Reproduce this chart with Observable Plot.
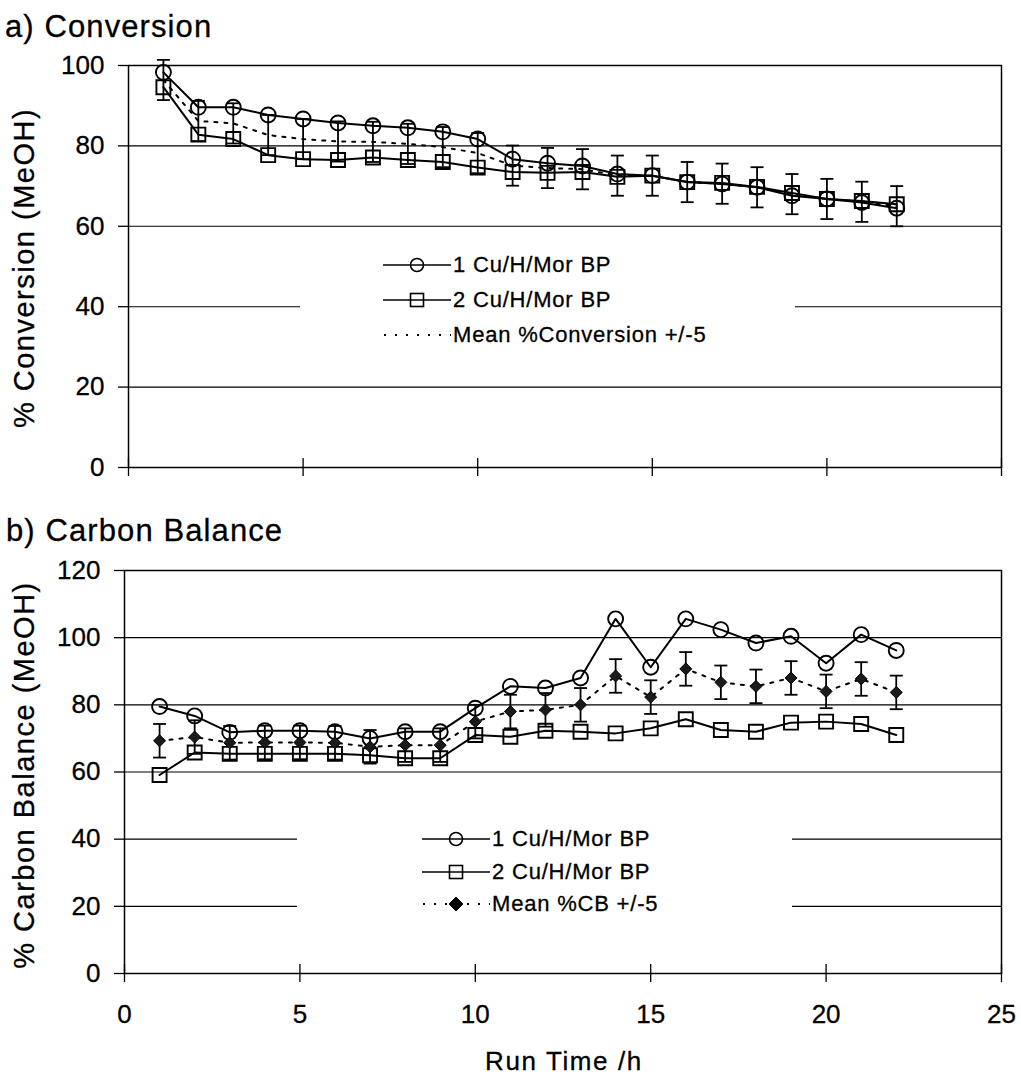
<!DOCTYPE html>
<html>
<head>
<meta charset="utf-8">
<script src="https://cdn.jsdelivr.net/npm/d3@7"></script>
<script src="https://cdn.jsdelivr.net/npm/@observablehq/plot@0.6"></script>
<style>
  html, body { margin: 0; padding: 0; background: #fff; }
  #page { position: relative; width: 1021px; height: 1076px; overflow: hidden; background: #fff;
          font-family: "Liberation Sans", Arial, Helvetica, sans-serif; color: #000; }
  .abs { position: absolute; }
  .title { font-size: 31px; letter-spacing: 1.1px; line-height: 30px; white-space: nowrap; -webkit-text-stroke: 0.3px #000; }
  .ylab { font-size: 29px; letter-spacing: 1.5px; white-space: nowrap; transform: translate(-50%, -50%) rotate(-90deg); line-height: 30px; -webkit-text-stroke: 0.3px #000; }
  .xlab { font-size: 26px; letter-spacing: 1.6px; white-space: nowrap; transform: translateX(-50%); line-height: 26px; -webkit-text-stroke: 0.3px #000; }
  .legend { background: #fff; }
  .legrow { position: absolute; display: flex; align-items: center; height: 30px; transform: translateY(-50%); font-size: 22px; letter-spacing: 0.8px; white-space: nowrap; -webkit-text-stroke: 0.3px #000; }
  .legrow svg { display: block; margin-right: 2px; }
  svg text { stroke: #000; stroke-width: 0.3px; }
</style>
</head>
<body>
<div id="page"></div>
<script>
// ---------- data ----------
const hours = [1, 2, 3, 4, 5, 6, 7, 8, 9, 10, 11, 12, 13, 14, 15, 16, 17, 18, 19, 20, 21, 22];

// a) Conversion (%)
const conv1 = [98.3, 89.6, 89.6, 87.7, 86.7, 85.7, 85.0, 84.5, 83.5, 81.7, 76.7, 75.7, 75.0, 73.0, 72.6, 71.0, 70.5, 69.7, 67.6, 66.8, 65.9, 64.5];
const conv2 = [94.6, 82.8, 81.7, 77.7, 76.7, 76.5, 77.1, 76.5, 76.0, 74.6, 73.5, 73.3, 73.5, 72.3, 72.6, 71.0, 70.8, 69.8, 68.3, 66.8, 66.3, 65.5];
const convMean = [96.4, 86.2, 85.6, 82.7, 81.7, 81.1, 81.0, 80.5, 79.7, 78.2, 75.1, 74.5, 74.2, 72.6, 72.6, 71.0, 70.6, 69.7, 68.0, 66.8, 66.1, 65.0];

// b) Carbon balance (%)
const cb1 = [79.5, 76.7, 71.8, 72.3, 72.3, 72.0, 70.0, 72.0, 72.0, 79.0, 85.5, 85.0, 88.0, 105.6, 91.2, 105.6, 102.4, 98.4, 100.4, 92.4, 100.9, 96.2];
const cb2 = [59.1, 65.8, 65.4, 65.4, 65.4, 65.4, 65.0, 64.1, 64.1, 71.0, 70.5, 72.3, 72.0, 71.5, 73.0, 75.7, 72.5, 72.0, 74.7, 75.0, 74.3, 71.0];
const cbMean = [69.3, 70.4, 68.7, 68.8, 68.8, 68.7, 67.5, 68.0, 68.0, 75.0, 78.0, 78.5, 80.0, 88.6, 82.3, 90.7, 86.7, 85.5, 88.0, 84.0, 87.7, 83.7];

const errHalf = 5;   // "+/-5" error bars on the mean

const xTicks = [0, 5, 10, 15, 20, 25];
const convTicks = [0, 20, 40, 60, 80, 100];
const convGrid = [20, 40, 60, 80];
const cbTicks = [0, 20, 40, 60, 80, 100, 120];
const cbGrid = [20, 40, 60, 80, 100];

const titleA = "a) Conversion";
const titleB = "b) Carbon Balance";
const yLabelA = "% Conversion (MeOH)";
const yLabelB = "% Carbon Balance (MeOH)";
const xLabel = "Run Time /h";
const legendA = ["1 Cu/H/Mor BP", "2 Cu/H/Mor BP", "Mean %Conversion +/-5"];
const legendB = ["1 Cu/H/Mor BP", "2 Cu/H/Mor BP", "Mean %CB +/-5"];

// ---------- helpers ----------
const conv = hours.map((h, i) => ({h, s1: conv1[i], s2: conv2[i], mean: convMean[i]}));
const cb = hours.map((h, i) => ({h, s1: cb1[i], s2: cb2[i], mean: cbMean[i]}));

const capSymbol = {
  draw(context, size) {
    const r = Math.sqrt(size / Math.PI);
    context.moveTo(-r, 0);
    context.lineTo(r, 0);
  }
};

const FONT = '"Liberation Sans", Arial, Helvetica, sans-serif';
const page = document.getElementById("page");

function place(el, left, top) {
  el.classList.add("abs");
  el.style.left = left + "px";
  el.style.top = top + "px";
  page.appendChild(el);
  return el;
}
function textDiv(cls, txt) {
  const d = document.createElement("div");
  d.className = cls;
  d.textContent = txt;
  return d;
}

function chart(rows, opts) {
  const {yDomain, yTicks, grid, height, marginTop, marginBottom, marginLeft, dash, showXLabels, diamonds} = opts;
  const marks = [
    Plot.ruleY(grid, {stroke: "black", strokeWidth: 1.1}),
    Plot.frame({stroke: "black", strokeWidth: 1.5}),
    Plot.ruleX(xTicks, {x: d => d, y1: yDomain[0], y2: yDomain[0], insetTop: -9, insetBottom: -9, stroke: "black", strokeWidth: 1.3}),
    Plot.axisY({ticks: yTicks, tickSize: 10, tickPadding: 14, fontSize: 26, label: null, strokeWidth: 1.3}),
    // mean (dotted) with +/- error bars
    Plot.line(rows, {x: "h", y: "mean", stroke: "black", strokeWidth: 2, strokeDasharray: dash}),
    Plot.ruleX(rows, {x: "h", y1: d => d.mean - errHalf, y2: d => d.mean + errHalf, stroke: "black", strokeWidth: 1.8}),
    Plot.dot(rows, {x: "h", y: d => d.mean + errHalf, symbol: capSymbol, r: 6.5, stroke: "black", strokeWidth: 1.8}),
    Plot.dot(rows, {x: "h", y: d => d.mean - errHalf, symbol: capSymbol, r: 6.5, stroke: "black", strokeWidth: 1.8}),
    // series
    Plot.line(rows, {x: "h", y: "s1", stroke: "black", strokeWidth: 2}),
    Plot.line(rows, {x: "h", y: "s2", stroke: "black", strokeWidth: 2}),
    Plot.dot(rows, {x: "h", y: "s1", r: 7.5, stroke: "black", fill: "none", strokeWidth: 1.9}),
    Plot.dot(rows, {x: "h", y: "s2", symbol: "square", r: 7.9, stroke: "black", fill: "none", strokeWidth: 1.9})
  ];
  if (diamonds) {
    marks.push(Plot.dot(rows, {x: "h", y: "mean", symbol: "diamond2", r: 5.4, fill: "#1a1a1a", stroke: "black", strokeWidth: 1}));
  }
  if (showXLabels) {
    marks.push(Plot.axisX({ticks: xTicks, tickSize: 0, tickPadding: 31, fontSize: 26, label: null}));
  }
  return Plot.plot({
    width: 1021,
    height,
    marginTop,
    marginBottom,
    marginLeft,
    marginRight: 20,
    x: {domain: [0, 25], axis: null},
    y: {domain: yDomain, axis: null},
    style: {fontFamily: FONT, color: "black", background: "transparent", overflow: "visible"},
    marks
  });
}

// ---------- chart a ----------
const svgA = chart(conv, {yDomain: [0, 100], yTicks: convTicks, grid: convGrid, height: 490, marginTop: 65, marginBottom: 23, marginLeft: 128, dash: "3,7", showXLabels: false, diamonds: false});
place(svgA, 0, 0);

// ---------- chart b ----------
const svgB = chart(cb, {yDomain: [0, 120], yTicks: cbTicks, grid: cbGrid, height: 586, marginTop: 80, marginBottom: 103, marginLeft: 124, dash: "3,7", showXLabels: true, diamonds: true});
place(svgB, 0, 490);

// ---------- titles & axis labels ----------
place(textDiv("title", titleA), 5, 12);
place(textDiv("title", titleB), 6, 516);
place(textDiv("ylab", yLabelA), 24, 268);
place(textDiv("ylab", yLabelB), 24, 775);
place(textDiv("xlab", xLabel), 564, 1048);

// ---------- legends ----------
function legendSymbol(kind) {
  const ns = "http://www.w3.org/2000/svg";
  const s = document.createElementNS(ns, "svg");
  s.setAttribute("width", 68); s.setAttribute("height", 24);
  const add = (tag, attrs) => { const e = document.createElementNS(ns, tag); for (const k in attrs) e.setAttribute(k, attrs[k]); s.appendChild(e); return e; };
  if (kind === "circle" || kind === "square") {
    add("line", {x1: 0, x2: 68, y1: 12, y2: 12, stroke: "black", "stroke-width": 1.6});
    if (kind === "circle") add("circle", {cx: 34, cy: 12, r: 6.5, fill: "none", stroke: "black", "stroke-width": 1.6});
    else add("rect", {x: 27.5, y: 5.5, width: 13, height: 13, fill: "none", stroke: "black", "stroke-width": 1.6});
  } else if (kind === "dots") {
    add("line", {x1: 1, x2: 68, y1: 12, y2: 12, stroke: "black", "stroke-width": 2, "stroke-dasharray": "2,9"});
  } else {
    add("line", {x1: 1, x2: 68, y1: 12, y2: 12, stroke: "black", "stroke-width": 2, "stroke-dasharray": "2,9"});
    add("path", {d: "M34,5 L41,12 L34,19 L27,12 Z", fill: "black", stroke: "black"});
  }
  return s;
}
function legend(box, rowsY, symX, labels, kinds) {
  const b = document.createElement("div");
  b.className = "legend";
  b.style.width = box.w + "px"; b.style.height = box.h + "px";
  place(b, box.x, box.y);
  labels.forEach((lab, i) => {
    const r = document.createElement("div");
    r.className = "legrow";
    r.appendChild(legendSymbol(kinds[i]));
    const t = document.createElement("span"); t.textContent = lab; r.appendChild(t);
    place(r, symX, rowsY[i]);
  });
}
legend({x: 300, y: 245, w: 495, h: 110}, [265, 300, 335], 383, legendA, ["circle", "square", "dots"]);
legend({x: 297, y: 815, w: 495, h: 110}, [839, 872, 904], 422, legendB, ["circle", "square", "diamond"]);
</script>
</body>
</html>
